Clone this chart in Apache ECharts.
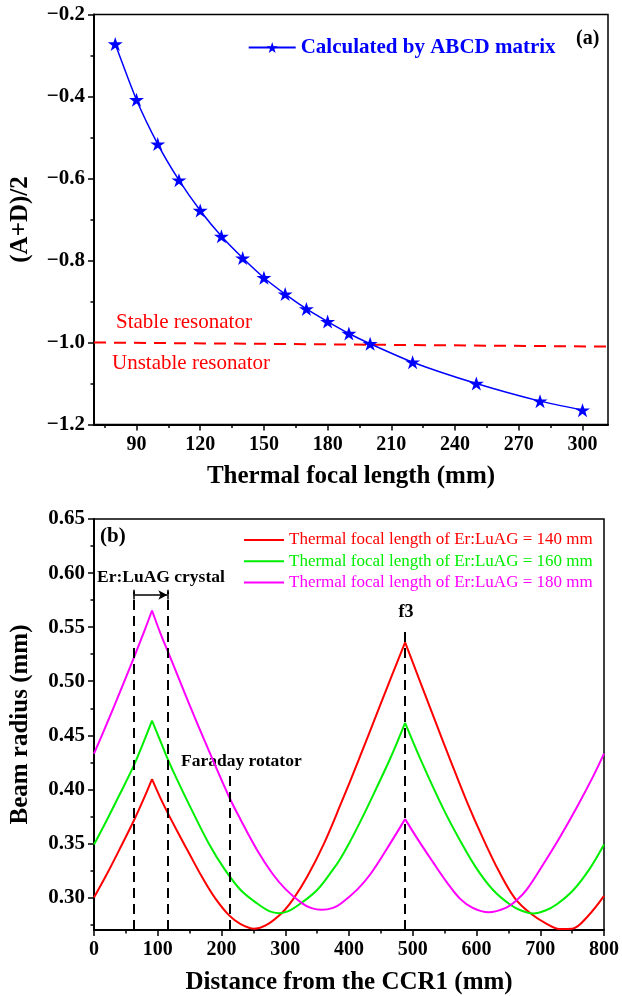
<!DOCTYPE html>
<html>
<head>
<meta charset="utf-8">
<script src="https://cdn.jsdelivr.net/npm/echarts@6/dist/echarts.min.js"></script>
<style>
  html, body { margin: 0; padding: 0; background: #fff; }
  #chart { width: 622px; height: 996px; }
</style>
</head>
<body>
<div id="chart"></div>
<script>
// (a) ABCD matrix result
const focalLengths = [80, 90, 100, 110, 120, 130, 140, 150, 160, 170, 180, 190, 200, 220, 250, 280, 300];
const abcdValues = [-0.272, -0.408, -0.516, -0.604, -0.678, -0.741, -0.794, -0.842, -0.882, -0.918, -0.949, -0.978, -1.003, -1.048, -1.100, -1.143, -1.165];
const stableLine = [[70, -1.0], [312, -1.01]];
const xTicksA = [90, 120, 150, 180, 210, 240, 270, 300];
const xMinorA = [75, 105, 135, 165, 195, 225, 255, 285];
const yTicksA = [-1.2, -1.0, -0.8, -0.6, -0.4, -0.2];
const yMinorA = [-1.1, -0.9, -0.7, -0.5, -0.3];

// (b) beam radius along the cavity, [distance mm, radius mm]
const red140 = [[0, 0.300], [20, 0.3215], [40, 0.3445], [62, 0.3705], [80, 0.394], [91, 0.4095],
  [105, 0.391], [115, 0.379], [130, 0.362], [150, 0.340], [170, 0.3185], [190, 0.2995], [212, 0.2835],
  [230, 0.2755], [251, 0.2712], [270, 0.2745], [295, 0.286], [313, 0.299], [335, 0.320], [360, 0.349],
  [385, 0.3835], [415, 0.427], [450, 0.4795], [488, 0.536],
  [510, 0.502], [535, 0.4635], [560, 0.4255], [585, 0.3885], [610, 0.355], [635, 0.3245], [660, 0.2995],
  [685, 0.2852], [710, 0.2757], [730, 0.271], [750, 0.2712], [775, 0.283], [800, 0.3015]];
const green160 = [[0, 0.349], [20, 0.3715], [40, 0.395], [62, 0.4215], [80, 0.447], [91, 0.4636],
  [105, 0.4434], [115, 0.429], [130, 0.4095], [150, 0.385], [180, 0.350], [205, 0.326], [230, 0.307],
  [256, 0.2945], [275, 0.2875], [290, 0.2856], [305, 0.2875], [324, 0.2945], [350, 0.307], [375, 0.326],
  [386, 0.3355], [400, 0.350], [415, 0.367], [430, 0.385], [465, 0.429], [488, 0.4615],
  [515, 0.424], [548, 0.382], [574, 0.353], [600, 0.327], [626, 0.307], [652, 0.2938], [670, 0.288],
  [689, 0.2853], [708, 0.288], [726, 0.2938], [752, 0.307], [778, 0.327], [800, 0.349]];
const magenta180 = [[0, 0.433], [20, 0.4605], [40, 0.489], [62, 0.521], [80, 0.548], [91, 0.5654],
  [105, 0.543], [115, 0.5287], [130, 0.507], [150, 0.478], [180, 0.436], [212, 0.393], [230, 0.372],
  [256, 0.3437], [280, 0.322], [300, 0.308], [326, 0.2948], [340, 0.2905], [357, 0.2887], [375, 0.2905],
  [388, 0.2948], [414, 0.308], [434, 0.322], [458, 0.3437], [488, 0.3725],
  [511, 0.351], [532, 0.3325], [553, 0.3145], [574, 0.299], [594, 0.2905], [619, 0.2865], [646, 0.2905],
  [663, 0.2975], [679, 0.3075], [705, 0.331], [731, 0.356], [757, 0.383], [783, 0.412], [800, 0.433]];
const yTicksB = [0.30, 0.35, 0.40, 0.45, 0.50, 0.55, 0.60, 0.65];
const yMinorB = [0.275, 0.325, 0.375, 0.425, 0.475, 0.525, 0.575, 0.625];
const crystalEdges = [62, 115];
const faradayX = 212.5;
const f3X = 488;

const serif = '"Liberation Serif", "Times New Roman", serif';
const starPath = 'path://M50,0 L61.2,34.5 L97.6,34.5 L68.2,55.9 L79.4,90.5 L50,69.1 L20.6,90.5 L31.8,55.9 L2.4,34.5 L38.8,34.5 Z';

const labelStyle = { fontSize: 20, fontWeight: 'bold', fontFamily: serif, color: '#000' };
const yLabelStyle = { fontSize: 21, fontWeight: 'bold', fontFamily: serif, color: '#000' };
const nameStyle = { fontSize: 25, fontWeight: 'bold', fontFamily: serif, color: '#000' };
const black = { color: '#000', width: 2 };
const tickLine = { color: '#000', width: 1.5 };

function mainAxis(grid, extra) {
  return Object.assign({
    gridIndex: grid, type: 'value',
    axisLine: { show: true, onZero: false, lineStyle: black },
    axisTick: { show: true, inside: false, length: 6, lineStyle: tickLine },
    axisLabel: Object.assign({ margin: 10 }, labelStyle),
    splitLine: { show: false },
    nameLocation: 'middle', nameTextStyle: nameStyle
  }, extra);
}
// extra axis that only draws the short minor ticks
function minorAxis(grid, pos, min, max, values) {
  return {
    gridIndex: grid, type: 'value', position: pos, min: min, max: max,
    axisLine: { show: false, onZero: false },
    axisTick: { show: true, inside: false, length: 3.5, customValues: values, lineStyle: tickLine },
    axisLabel: { show: false }, splitLine: { show: false }
  };
}

// split a curve at its cusps (local maxima) so smoothing keeps them sharp
function segments(points) {
  const out = [];
  let start = 0;
  for (let i = 1; i < points.length - 1; i++) {
    if (points[i][1] > points[i - 1][1] && points[i][1] > points[i + 1][1]) {
      out.push(points.slice(start, i + 1));
      start = i;
    }
  }
  out.push(points.slice(start));
  return out;
}

const beamCurves = [
  { name: 'Thermal focal length of Er:LuAG = 140 mm', color: '#ff0000', data: red140 },
  { name: 'Thermal focal length of Er:LuAG = 160 mm', color: '#00ee00', data: green160 },
  { name: 'Thermal focal length of Er:LuAG = 180 mm', color: '#ff00ff', data: magenta180 }
];

const series = [
  {
    name: 'Calculated by ABCD matrix', type: 'line', xAxisIndex: 0, yAxisIndex: 0,
    data: focalLengths.map((f, i) => [f, abcdValues[i]]),
    smooth: 0.2, symbol: starPath, symbolSize: [15, 14],
    itemStyle: { color: '#0000ff' }, lineStyle: { color: '#0000ff', width: 1.5 }, z: 5
  },
  {
    name: 'stable', type: 'line', xAxisIndex: 0, yAxisIndex: 0, data: stableLine,
    symbol: 'none', silent: true,
    lineStyle: { color: '#ff0000', width: 2, type: [12, 8] }
  }
];

beamCurves.forEach(c => {
  segments(c.data).forEach(seg => {
    series.push({
      name: c.name, type: 'line', xAxisIndex: 2, yAxisIndex: 2, data: seg,
      smooth: 0.35, symbol: 'none', color: c.color,
      lineStyle: { color: c.color, width: 2 }
    });
  });
});

const dash = { color: '#000', width: 2, type: [10, 6] };
const solid = { color: '#000', width: 1.5, type: 'solid' };
series.push({
  name: 'markers', type: 'line', xAxisIndex: 2, yAxisIndex: 2, data: [], silent: true,
  markLine: {
    silent: true, symbol: ['none', 'none'], label: { show: false }, animation: false,
    data: [
      [{ coord: [crystalEdges[0], 0.27], lineStyle: dash }, { coord: [crystalEdges[0], 0.583] }],
      [{ coord: [crystalEdges[1], 0.27], lineStyle: dash }, { coord: [crystalEdges[1], 0.583] }],
      [{ coord: [faradayX, 0.27], lineStyle: dash }, { coord: [faradayX, 0.415] }],
      [{ coord: [f3X, 0.27], lineStyle: dash }, { coord: [f3X, 0.548] }],
      [{ coord: [crystalEdges[0], 0.5797], lineStyle: solid }, { coord: [crystalEdges[1], 0.5797], symbol: 'arrow', symbolSize: [7, 9] }],
      [{ coord: [crystalEdges[0], 0.5755], lineStyle: solid }, { coord: [crystalEdges[0], 0.5845] }],
      [{ coord: [crystalEdges[1], 0.5755], lineStyle: solid }, { coord: [crystalEdges[1], 0.5845] }]
    ]
  }
});

function txt(x, y, text, font, fill, align) {
  return {
    type: 'text', x: x, y: y, silent: true,
    style: { text: text, font: font, fill: fill, align: align || 'left', verticalAlign: 'middle',
      textAlign: align || 'left', textVerticalAlign: 'middle' }
  };
}

const option = {
  animation: false,
  backgroundColor: '#fff',
  grid: [
    { left: 94, top: 14.5, width: 514, height: 410, show: true, borderColor: '#000', borderWidth: 1.5, backgroundColor: 'transparent' },
    { left: 93.3, top: 519, width: 514.7, height: 413, show: true, borderColor: '#000', borderWidth: 1.5, backgroundColor: 'transparent' }
  ],
  xAxis: [
    mainAxis(0, { min: 70, max: 312, position: 'bottom', name: 'Thermal focal length (mm)', nameGap: 40,
      axisTick: { show: true, length: 6, customValues: xTicksA, lineStyle: tickLine },
      axisLabel: Object.assign({ margin: 10, customValues: xTicksA }, labelStyle) }),
    minorAxis(0, 'bottom', 70, 312, xMinorA),
    mainAxis(1, { min: 0, max: 800, interval: 100, position: 'bottom', name: 'Distance from the CCR1 (mm)', nameGap: 40,
      minorTick: { show: true, splitNumber: 2, length: 3.5, lineStyle: tickLine } }),
    minorAxis(1, 'bottom', 0, 800, [])
  ],
  yAxis: [
    mainAxis(0, { min: -1.2, max: -0.2, position: 'left', name: '(A+D)/2', nameGap: 61,
      axisTick: { show: true, length: 6, customValues: yTicksA, lineStyle: tickLine },
      axisLabel: Object.assign({ margin: 9, customValues: yTicksA,
        formatter: v => v.toFixed(1).replace('-', '\u2212') }, yLabelStyle) }),
    minorAxis(0, 'left', -1.2, -0.2, yMinorA),
    mainAxis(1, { min: 0.27, max: 0.65, position: 'left', name: 'Beam radius (mm)', nameGap: 61,
      axisTick: { show: true, length: 6, customValues: yTicksB, lineStyle: tickLine },
      axisLabel: Object.assign({ margin: 9, customValues: yTicksB,
        formatter: v => v.toFixed(2) }, yLabelStyle) }),
    minorAxis(1, 'left', 0.27, 0.65, yMinorB)
  ],
  legend: [
    {
      data: ['Calculated by ABCD matrix'], left: 242.7, top: 32,
      itemWidth: 47, itemHeight: 14, itemGap: 0,
      textStyle: { fontSize: 21, fontWeight: 'bold', fontFamily: serif, color: '#0000ff', lineHeight: 21 },
      selectedMode: false
    },
    {
      data: beamCurves.map(c => ({ name: c.name, textStyle: { color: c.color } })),
      orient: 'vertical', left: 239, top: 526.5, icon: 'rect',
      itemWidth: 40, itemHeight: 2, itemGap: 4.3,
      textStyle: { fontSize: 17, fontFamily: serif, lineHeight: 17 },
      selectedMode: false
    }
  ],
  graphic: [
    txt(576, 39, '(a)', 'bold 20px ' + serif, '#000'),
    txt(116, 322, 'Stable resonator', '21px ' + serif, '#ff0000'),
    txt(112, 363, 'Unstable resonator', '21px ' + serif, '#ff0000'),
    txt(100, 537, '(b)', 'bold 21px ' + serif, '#000'),
    txt(97, 577, 'Er:LuAG crystal', 'bold 17.5px ' + serif, '#000'),
    txt(181, 761, 'Faraday rotator', 'bold 17.5px ' + serif, '#000'),
    txt(406, 612, 'f3', 'bold 18px ' + serif, '#000', 'center')
  ],
  series: series
};

const chart = echarts.init(document.getElementById('chart'), null, { renderer: 'canvas' });
chart.setOption(option);
</script>
</body>
</html>
